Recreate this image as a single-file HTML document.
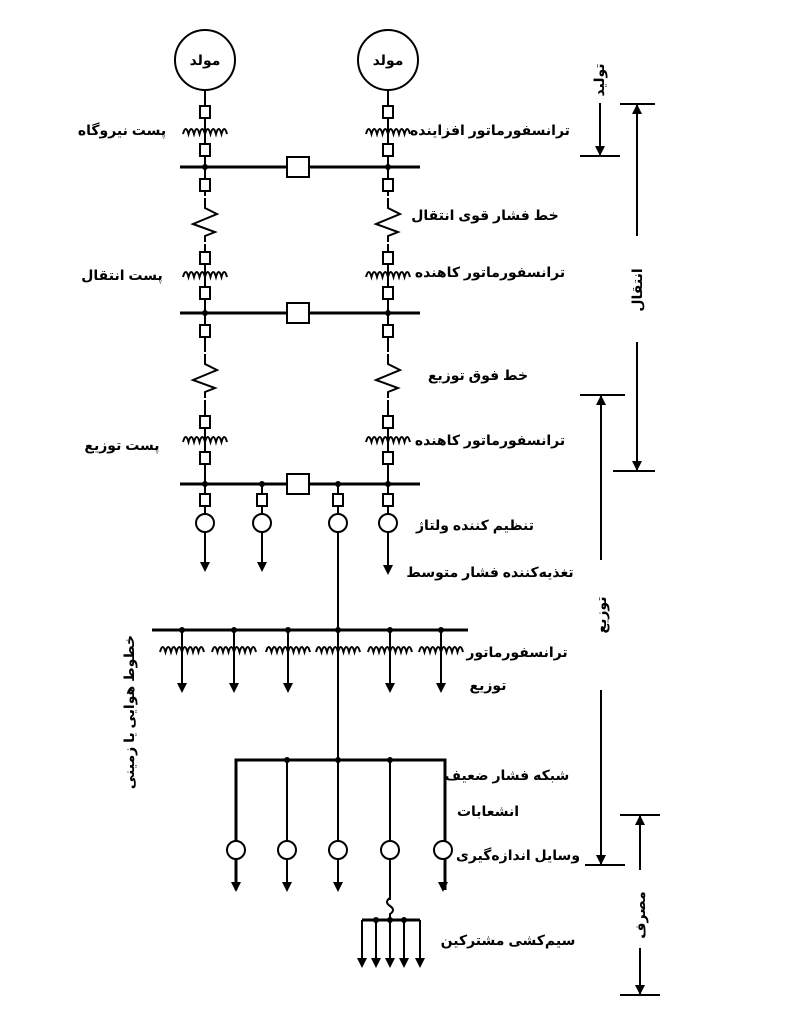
<!DOCTYPE html>
<html><head><meta charset="utf-8"><style>
html,body{margin:0;padding:0;background:#fff;}
svg{display:block;}
text{font-family:"Liberation Sans","DejaVu Sans",sans-serif;font-weight:bold;font-size:14px;fill:#000;}
</style></head><body>
<svg width="797" height="1024" viewBox="0 0 797 1024" xmlns="http://www.w3.org/2000/svg">
<defs>
<path id="tr" d="M-22 2 q2.75 -10 5.5 0 q2.75 -10 5.5 0 q2.75 -10 5.5 0 q2.75 -10 5.5 0 q2.75 -10 5.5 0 q2.75 -10 5.5 0 q2.75 -10 5.5 0 q2.75 -10 5.5 0" fill="none" stroke="#000" stroke-width="2"/>
<rect id="br" x="-5" y="-6" width="10" height="12" fill="#fff" stroke="#000" stroke-width="2"/>
<path id="res" d="M0 -22 L0 -12 L12 -6 L-12 4 L10 12 L0 16 L0 22" fill="none" stroke="#000" stroke-width="2"/>
<polygon id="ar" points="0,0 -5,-10 5,-10" fill="#000"/>
<circle id="dot" r="3" fill="#000"/>
</defs>
<g stroke="#000" stroke-width="2" fill="none">
<line x1="205" y1="90" x2="205" y2="570"/>
<line x1="388" y1="90" x2="388" y2="570"/>
<circle cx="205" cy="60" r="30" fill="#fff"/>
<circle cx="388" cy="60" r="30" fill="#fff"/>
<line x1="180" y1="167" x2="420" y2="167" stroke-width="3"/>
<line x1="180" y1="313" x2="420" y2="313" stroke-width="3"/>
<line x1="180" y1="484" x2="420" y2="484" stroke-width="3"/>
<line x1="262" y1="484" x2="262" y2="570"/>
<line x1="338" y1="484" x2="338" y2="760"/>
<line x1="152" y1="630" x2="468" y2="630" stroke-width="3"/>
<line x1="182" y1="630" x2="182" y2="690"/>
<line x1="234" y1="630" x2="234" y2="690"/>
<line x1="288" y1="630" x2="288" y2="690"/>
<line x1="390" y1="630" x2="390" y2="690"/>
<line x1="441" y1="630" x2="441" y2="690"/>
<polyline points="236,890 236,760 445,760 445,890" stroke-width="3"/>
<line x1="287" y1="760" x2="287" y2="890"/>
<line x1="338" y1="760" x2="338" y2="890"/>
<line x1="390" y1="760" x2="390" y2="900"/>
<path d="M390 898 q-6 4 0 8 q6 4 0 8 L390 920"/>
<line x1="362" y1="920" x2="420" y2="920" stroke-width="3"/>
<line x1="362" y1="920" x2="362" y2="965"/>
<line x1="376" y1="920" x2="376" y2="965"/>
<line x1="390" y1="920" x2="390" y2="965"/>
<line x1="404" y1="920" x2="404" y2="965"/>
<line x1="420" y1="920" x2="420" y2="965"/>
<line x1="600" y1="103" x2="600" y2="155"/><line x1="580" y1="156" x2="620" y2="156"/>
<line x1="620" y1="104" x2="655" y2="104"/><line x1="637" y1="104" x2="637" y2="236"/>
<line x1="637" y1="342" x2="637" y2="470"/><line x1="613" y1="471" x2="655" y2="471"/>
<line x1="580" y1="395" x2="625" y2="395"/><line x1="601" y1="395" x2="601" y2="560"/>
<line x1="601" y1="690" x2="601" y2="865"/><line x1="585" y1="865" x2="625" y2="865"/>
<line x1="620" y1="815" x2="660" y2="815"/><line x1="640" y1="815" x2="640" y2="870"/>
<line x1="640" y1="948" x2="640" y2="995"/><line x1="620" y1="995" x2="660" y2="995"/>
</g>
<use href="#ar" x="600" y="156"/>
<polygon points="637,104 632,114 642,114" fill="#000"/>
<use href="#ar" x="637" y="471"/>
<polygon points="601,395 596,405 606,405" fill="#000"/>
<use href="#ar" x="601" y="865"/>
<polygon points="640,815 635,825 645,825" fill="#000"/>
<use href="#ar" x="640" y="995"/>
<use href="#br" x="205" y="112"/><use href="#tr" x="205" y="132"/><use href="#br" x="205" y="150"/>
<use href="#br" x="388" y="112"/><use href="#tr" x="388" y="132"/><use href="#br" x="388" y="150"/>
<rect x="287" y="157" width="22" height="20" fill="#fff" stroke="#000" stroke-width="2"/>
<use href="#dot" x="205" y="167"/><use href="#dot" x="388" y="167"/>
<use href="#br" x="205" y="185"/><use href="#br" x="388" y="185"/>
<rect x="195" y="196" width="20" height="48" fill="#fff"/><rect x="378" y="196" width="20" height="48" fill="#fff"/>
<use href="#res" x="205" y="220"/><use href="#res" x="388" y="220"/>
<use href="#br" x="205" y="258"/><use href="#tr" x="205" y="275"/><use href="#br" x="205" y="293"/>
<use href="#br" x="388" y="258"/><use href="#tr" x="388" y="275"/><use href="#br" x="388" y="293"/>
<rect x="287" y="303" width="22" height="20" fill="#fff" stroke="#000" stroke-width="2"/>
<use href="#dot" x="205" y="313"/><use href="#dot" x="388" y="313"/>
<use href="#br" x="205" y="331"/><use href="#br" x="388" y="331"/>
<rect x="195" y="352" width="20" height="48" fill="#fff"/><rect x="378" y="352" width="20" height="48" fill="#fff"/>
<use href="#res" x="205" y="376"/><use href="#res" x="388" y="376"/>
<use href="#br" x="205" y="422"/><use href="#tr" x="205" y="440"/><use href="#br" x="205" y="458"/>
<use href="#br" x="388" y="422"/><use href="#tr" x="388" y="440"/><use href="#br" x="388" y="458"/>
<rect x="287" y="474" width="22" height="20" fill="#fff" stroke="#000" stroke-width="2"/>
<use href="#dot" x="205" y="484"/><use href="#dot" x="262" y="484"/><use href="#dot" x="338" y="484"/><use href="#dot" x="388" y="484"/>
<g fill="#fff" stroke="#000" stroke-width="2">
<use href="#br" x="205" y="500"/><use href="#br" x="262" y="500"/><use href="#br" x="338" y="500"/><use href="#br" x="388" y="500"/>
<circle cx="205" cy="523" r="9"/><circle cx="262" cy="523" r="9"/><circle cx="338" cy="523" r="9"/><circle cx="388" cy="523" r="9"/>
<circle cx="236" cy="850" r="9"/><circle cx="287" cy="850" r="9"/><circle cx="338" cy="850" r="9"/><circle cx="390" cy="850" r="9"/><circle cx="443" cy="850" r="9"/>
</g>
<use href="#ar" x="205" y="572"/><use href="#ar" x="262" y="572"/><use href="#ar" x="388" y="575"/>
<use href="#dot" x="338" y="630"/><use href="#dot" x="182" y="630"/><use href="#dot" x="234" y="630"/><use href="#dot" x="288" y="630"/><use href="#dot" x="390" y="630"/><use href="#dot" x="441" y="630"/>
<use href="#tr" x="182" y="650"/><use href="#tr" x="234" y="650"/><use href="#tr" x="288" y="650"/><use href="#tr" x="338" y="650"/><use href="#tr" x="390" y="650"/><use href="#tr" x="441" y="650"/>
<use href="#ar" x="182" y="693"/><use href="#ar" x="234" y="693"/><use href="#ar" x="288" y="693"/><use href="#ar" x="390" y="693"/><use href="#ar" x="441" y="693"/>
<use href="#dot" x="287" y="760"/><use href="#dot" x="338" y="760"/><use href="#dot" x="390" y="760"/>
<use href="#ar" x="236" y="892"/><use href="#ar" x="287" y="892"/><use href="#ar" x="338" y="892"/><use href="#ar" x="443" y="892"/>
<use href="#dot" x="376" y="920"/><use href="#dot" x="390" y="920"/><use href="#dot" x="404" y="920"/>
<use href="#ar" x="362" y="968"/><use href="#ar" x="376" y="968"/><use href="#ar" x="390" y="968"/><use href="#ar" x="404" y="968"/><use href="#ar" x="420" y="968"/>
<g text-anchor="middle">
<text x="205" y="65" font-size="13">مولد</text>
<text x="388" y="65" font-size="13">مولد</text>
<text x="490" y="135">ترانسفورماتور افزاینده</text>
<text x="122" y="135">پست نیروگاه</text>
<text x="485" y="220">خط فشار قوی انتقال</text>
<text x="490" y="277">ترانسفورماتور کاهنده</text>
<text x="122" y="280">پست انتقال</text>
<text x="478" y="380">خط فوق توزیع</text>
<text x="490" y="445">ترانسفورماتور کاهنده</text>
<text x="122" y="450">پست توزیع</text>
<text x="475" y="530">تنظیم کننده ولتاژ</text>
<text x="490" y="577">تغذیه‌کننده فشار متوسط</text>
<text x="517" y="657">ترانسفورماتور</text>
<text x="488" y="690">توزیع</text>
<text x="507" y="780">شبکه فشار ضعیف</text>
<text x="488" y="816">انشعابات</text>
<text x="518" y="860">وسایل اندازه‌گیری</text>
<text x="508" y="945">سیم‌کشی مشترکین</text>
<text transform="translate(604,80) rotate(-90)">تولید</text>
<text transform="translate(642,290) rotate(-90)">انتقال</text>
<text transform="translate(606,615) rotate(-90)">توزیع</text>
<text transform="translate(645,915) rotate(-90)">مصرف</text>
<text transform="translate(134,712) rotate(-90)">خطوط هوایی یا زمینی</text>
</g>
</svg>
</body></html>
